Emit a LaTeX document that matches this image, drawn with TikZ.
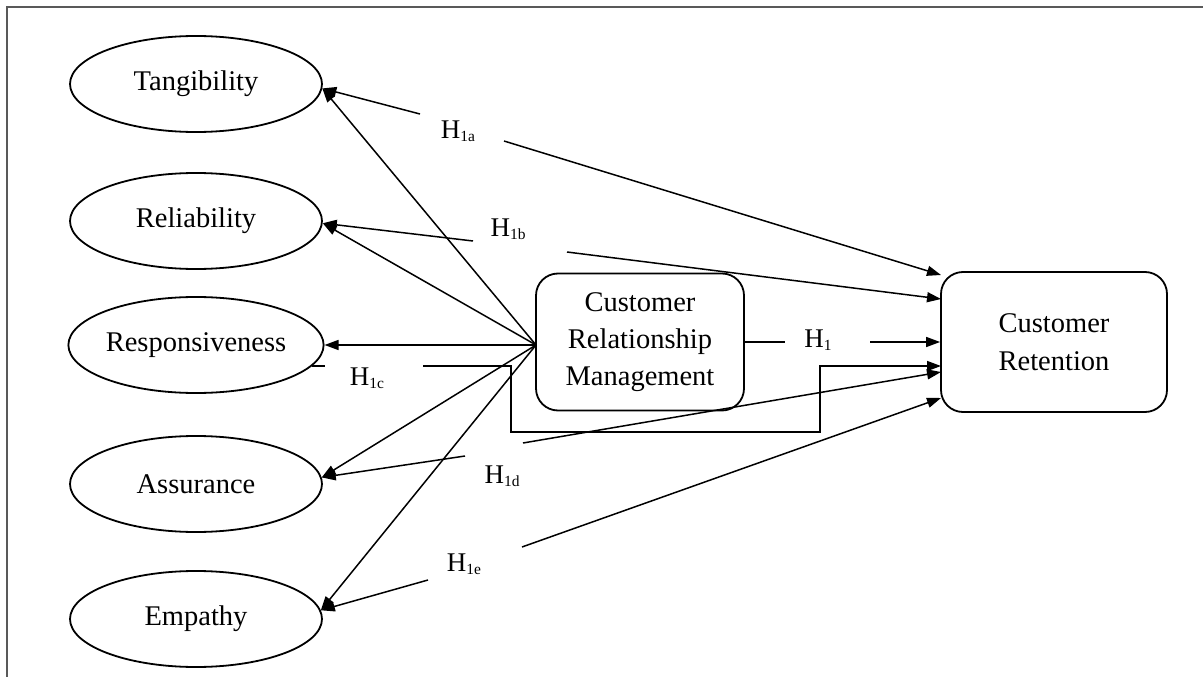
\documentclass[tikz,border=0pt]{standalone}
\usepackage{fontspec}
\setmainfont{Liberation Serif}
\usetikzlibrary{arrows.meta,shapes.geometric}
\newcommand{\Hsub}[1]{H\raisebox{-3.5pt}{\fontsize{15.5}{15.5}\selectfont #1}}
\begin{document}
\begin{tikzpicture}[x=1pt,y=-1pt,
  ell/.style={draw,ellipse,line width=1.8pt,minimum width=252pt,minimum height=96pt,inner sep=0pt,font=\fontsize{28.5}{34}\selectfont},
  rbox/.style={draw,rounded corners=22pt,line width=1.8pt,align=center,inner sep=0pt},
  arr/.style={line width=1.5pt,-{Triangle[length=14pt,width=10pt]}},
  ln/.style={line width=1.5pt},
  hlab/.style={font=\fontsize{27}{27}\selectfont,inner sep=0pt}]
\useasboundingbox (0,0) rectangle (1203,677);
\draw[line width=2pt,black!65] (7,677) -- (7,7) -- (1203,7);

% ellipses
\node[ell] (tang) at (196,84) {Tangibility};
\node[ell] (rel) at (196,221) {Reliability};
\node[ell] (resp) at (196,345) {Responsiveness};
\node[ell] (ass) at (196,484) {Assurance};
\node[ell] (emp) at (196,619) {Empathy};

% boxes
\node[rbox,minimum width=208pt,minimum height=137pt,font=\fontsize{28.5}{37}\selectfont] (crm) at (640,342) {Customer\\Relationship\\Management};
\node[rbox,minimum width=226pt,minimum height=140pt,font=\fontsize{28.5}{38}\selectfont] (cr) at (1054,342) {Customer\\Retention};

% labels
\node[hlab] (h1a) at (458,131) {\Hsub{1a}};
\node[hlab] (h1b) at (508,229) {\Hsub{1b}};
\node[hlab] (h1c) at (367,378) {\Hsub{1c}};
\node[hlab] (h1d) at (502,476) {\Hsub{1d}};
\node[hlab] (h1e) at (464,564) {\Hsub{1e}};
\node[hlab] (h1) at (818,340) {\Hsub{1}};

% hub and free ends
\coordinate (hub) at (536,345);
\coordinate (a1) at (420,114);
\coordinate (a2) at (504,141);
\coordinate (b1) at (473,241);
\coordinate (b2) at (567,252);
\coordinate (c0) at (312,366);
\coordinate (c1) at (325,366);
\coordinate (c2) at (423,366);
\coordinate (d1) at (465,456);
\coordinate (d2) at (523,443);
\coordinate (e1) at (428,580);
\coordinate (e2) at (522,547);
\coordinate (g1) at (785,342);
\coordinate (g2) at (870,342);
\coordinate (crA) at (941,275);
\coordinate (crB) at (941,299);
\coordinate (crC) at (941,366);
\coordinate (crD) at (941,372);
\coordinate (crE) at (941,398);

% hub to dimensions
\draw[arr] (hub) -- (tang.-2);
\draw[arr] (hub) -- (rel.-1);
\draw[arr] (hub) -- (resp.east);
\draw[arr] (hub) -- (ass.3);
\draw[arr] (hub) -- (emp.4);

% H1a
\draw[arr] (a1) -- (tang.-2);
\draw[arr] (a2) -- (crA);
% H1b
\draw[arr] (b1) -- (rel.-1);
\draw[arr] (b2) -- (crB);
% H1c
\draw[ln] (c0) -- (c1);
\draw[arr] (c2) -- (511,366) -- (511,432) -- (820,432) -- (820,366) -- (crC);
% H1d
\draw[arr] (d1) -- (ass.3);
\draw[arr] (d2) -- (crD);
% H1e
\draw[arr] (e1) -- (emp.4);
\draw[arr] (e2) -- (crE);
% H1
\draw[ln] (crm.east) -- (g1);
\draw[arr] (g2) -- (cr.west);
\end{tikzpicture}
\end{document}
